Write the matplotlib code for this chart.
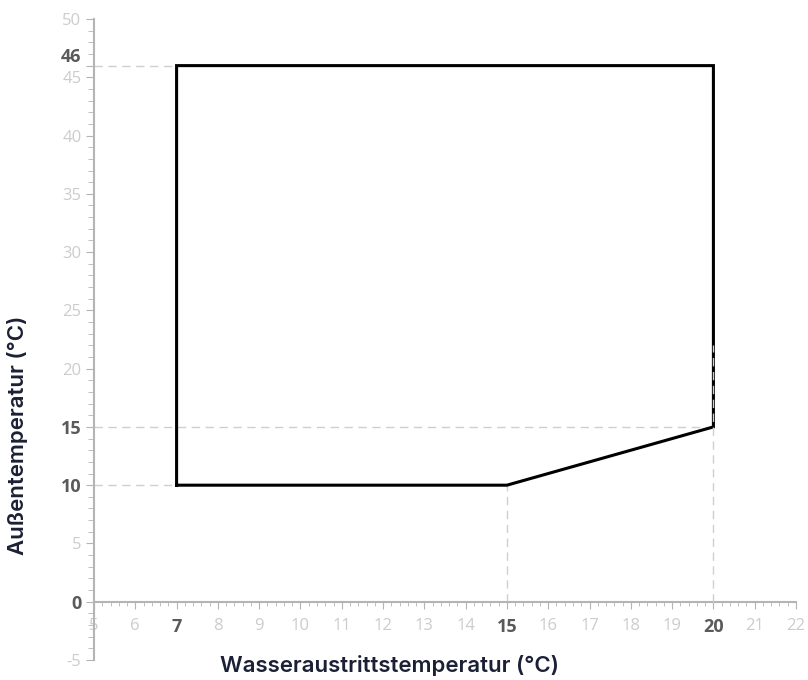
import numpy as np
import matplotlib.pyplot as plt
import matplotlib.ticker as mticker

# Envelope of the operating range (water outlet temp vs. outdoor temp)
env_x = [7, 7, 20, 20, 15, 7]
env_y = [10, 46, 46, 15, 10, 10]

# Dashed reference lines
ref_h = [(46, 5, 7), (15, 5, 20), (10, 5, 7)]      # (y, x0, x1)
ref_v = [(15, 0, 10), (20, 0, 22)]                 # (x, y0, y1)

x_ticks = list(range(5, 23))
y_ticks = [-5, 0, 5, 10, 15, 20, 25, 30, 35, 40, 45, 50]
x_bold = [7, 15, 20]
y_bold = [0, 10, 15]
y_extra = 46

light = '#cccccc'
dark = '#5a5a5a'
navy = '#1b2035'

fig = plt.figure(figsize=(8.08, 6.8), dpi=100)
ax = fig.add_axes([94/808, 1 - 660/680, (796 - 94)/808, (660 - 19)/680])

ax.set_xlim(5, 22)
ax.set_ylim(-5, 50)

for y, x0, x1 in ref_h:
    ax.plot([x0, x1], [y, y], color='#cfcfcf', lw=1, ls=(0, (6, 4)), zorder=1)
ax.plot(env_x, env_y, color='black', lw=2.2, zorder=2, solid_joinstyle='miter')
for x, y0, y1 in ref_v:
    ax.plot([x, x], [y0, y1], color='#cfcfcf', lw=1, ls=(0, (6, 4)), zorder=3 if x == 20 else 1)

# Spines
for s in ['top', 'right']:
    ax.spines[s].set_visible(False)
ax.spines['bottom'].set_position(('data', 0))
ax.spines['bottom'].set_color('#b4b4b4')
ax.spines['left'].set_color('#b4b4b4')
ax.spines['bottom'].set_linewidth(1.5)
ax.spines['left'].set_linewidth(1.5)

ax.set_xticks(x_ticks)
ax.xaxis.set_minor_locator(mticker.MultipleLocator(0.2))
ax.set_yticks(y_ticks + [y_extra])
ax.yaxis.set_minor_locator(mticker.MultipleLocator(1))
ax.tick_params(axis='x', which='major', direction='out', length=5, color='#b4b4b4', pad=7)
ax.tick_params(axis='x', which='minor', direction='out', length=3, color='#b4b4b4')
ax.tick_params(axis='y', which='major', direction='out', length=6, color='#b4b4b4', pad=3)
ax.tick_params(axis='y', which='minor', direction='out', length=4, color='#b4b4b4')

ax.set_xticklabels([str(v) for v in x_ticks])
ax.set_yticklabels([str(v) for v in y_ticks + [y_extra]])
for lab, v in zip(ax.get_xticklabels(), x_ticks):
    lab.set_family('Open Sans')
    if v in x_bold:
        lab.set_color(dark); lab.set_fontsize(13); lab.set_fontweight('bold')
    else:
        lab.set_color(light); lab.set_fontsize(12)
for lab, v in zip(ax.get_yticklabels(), y_ticks + [y_extra]):
    lab.set_family('Open Sans')
    if v in y_bold or v == y_extra:
        lab.set_color(dark); lab.set_fontsize(13); lab.set_fontweight('bold')
    else:
        lab.set_color(light); lab.set_fontsize(12)
    if v == y_extra:
        lab.set_va('bottom')

fig.text(18/808, 1 - 435/680, 'Außentemperatur (°C)', rotation=90, ha='center', va='center',
         fontsize=16, color=navy, family='Inter', fontweight='semibold')
fig.text(390/808, 1 - 666/680, 'Wasseraustrittstemperatur (°C)', ha='center', va='center',
         fontsize=16, color=navy, family='Inter', fontweight='semibold')

plt.savefig('out.png', dpi=100)
